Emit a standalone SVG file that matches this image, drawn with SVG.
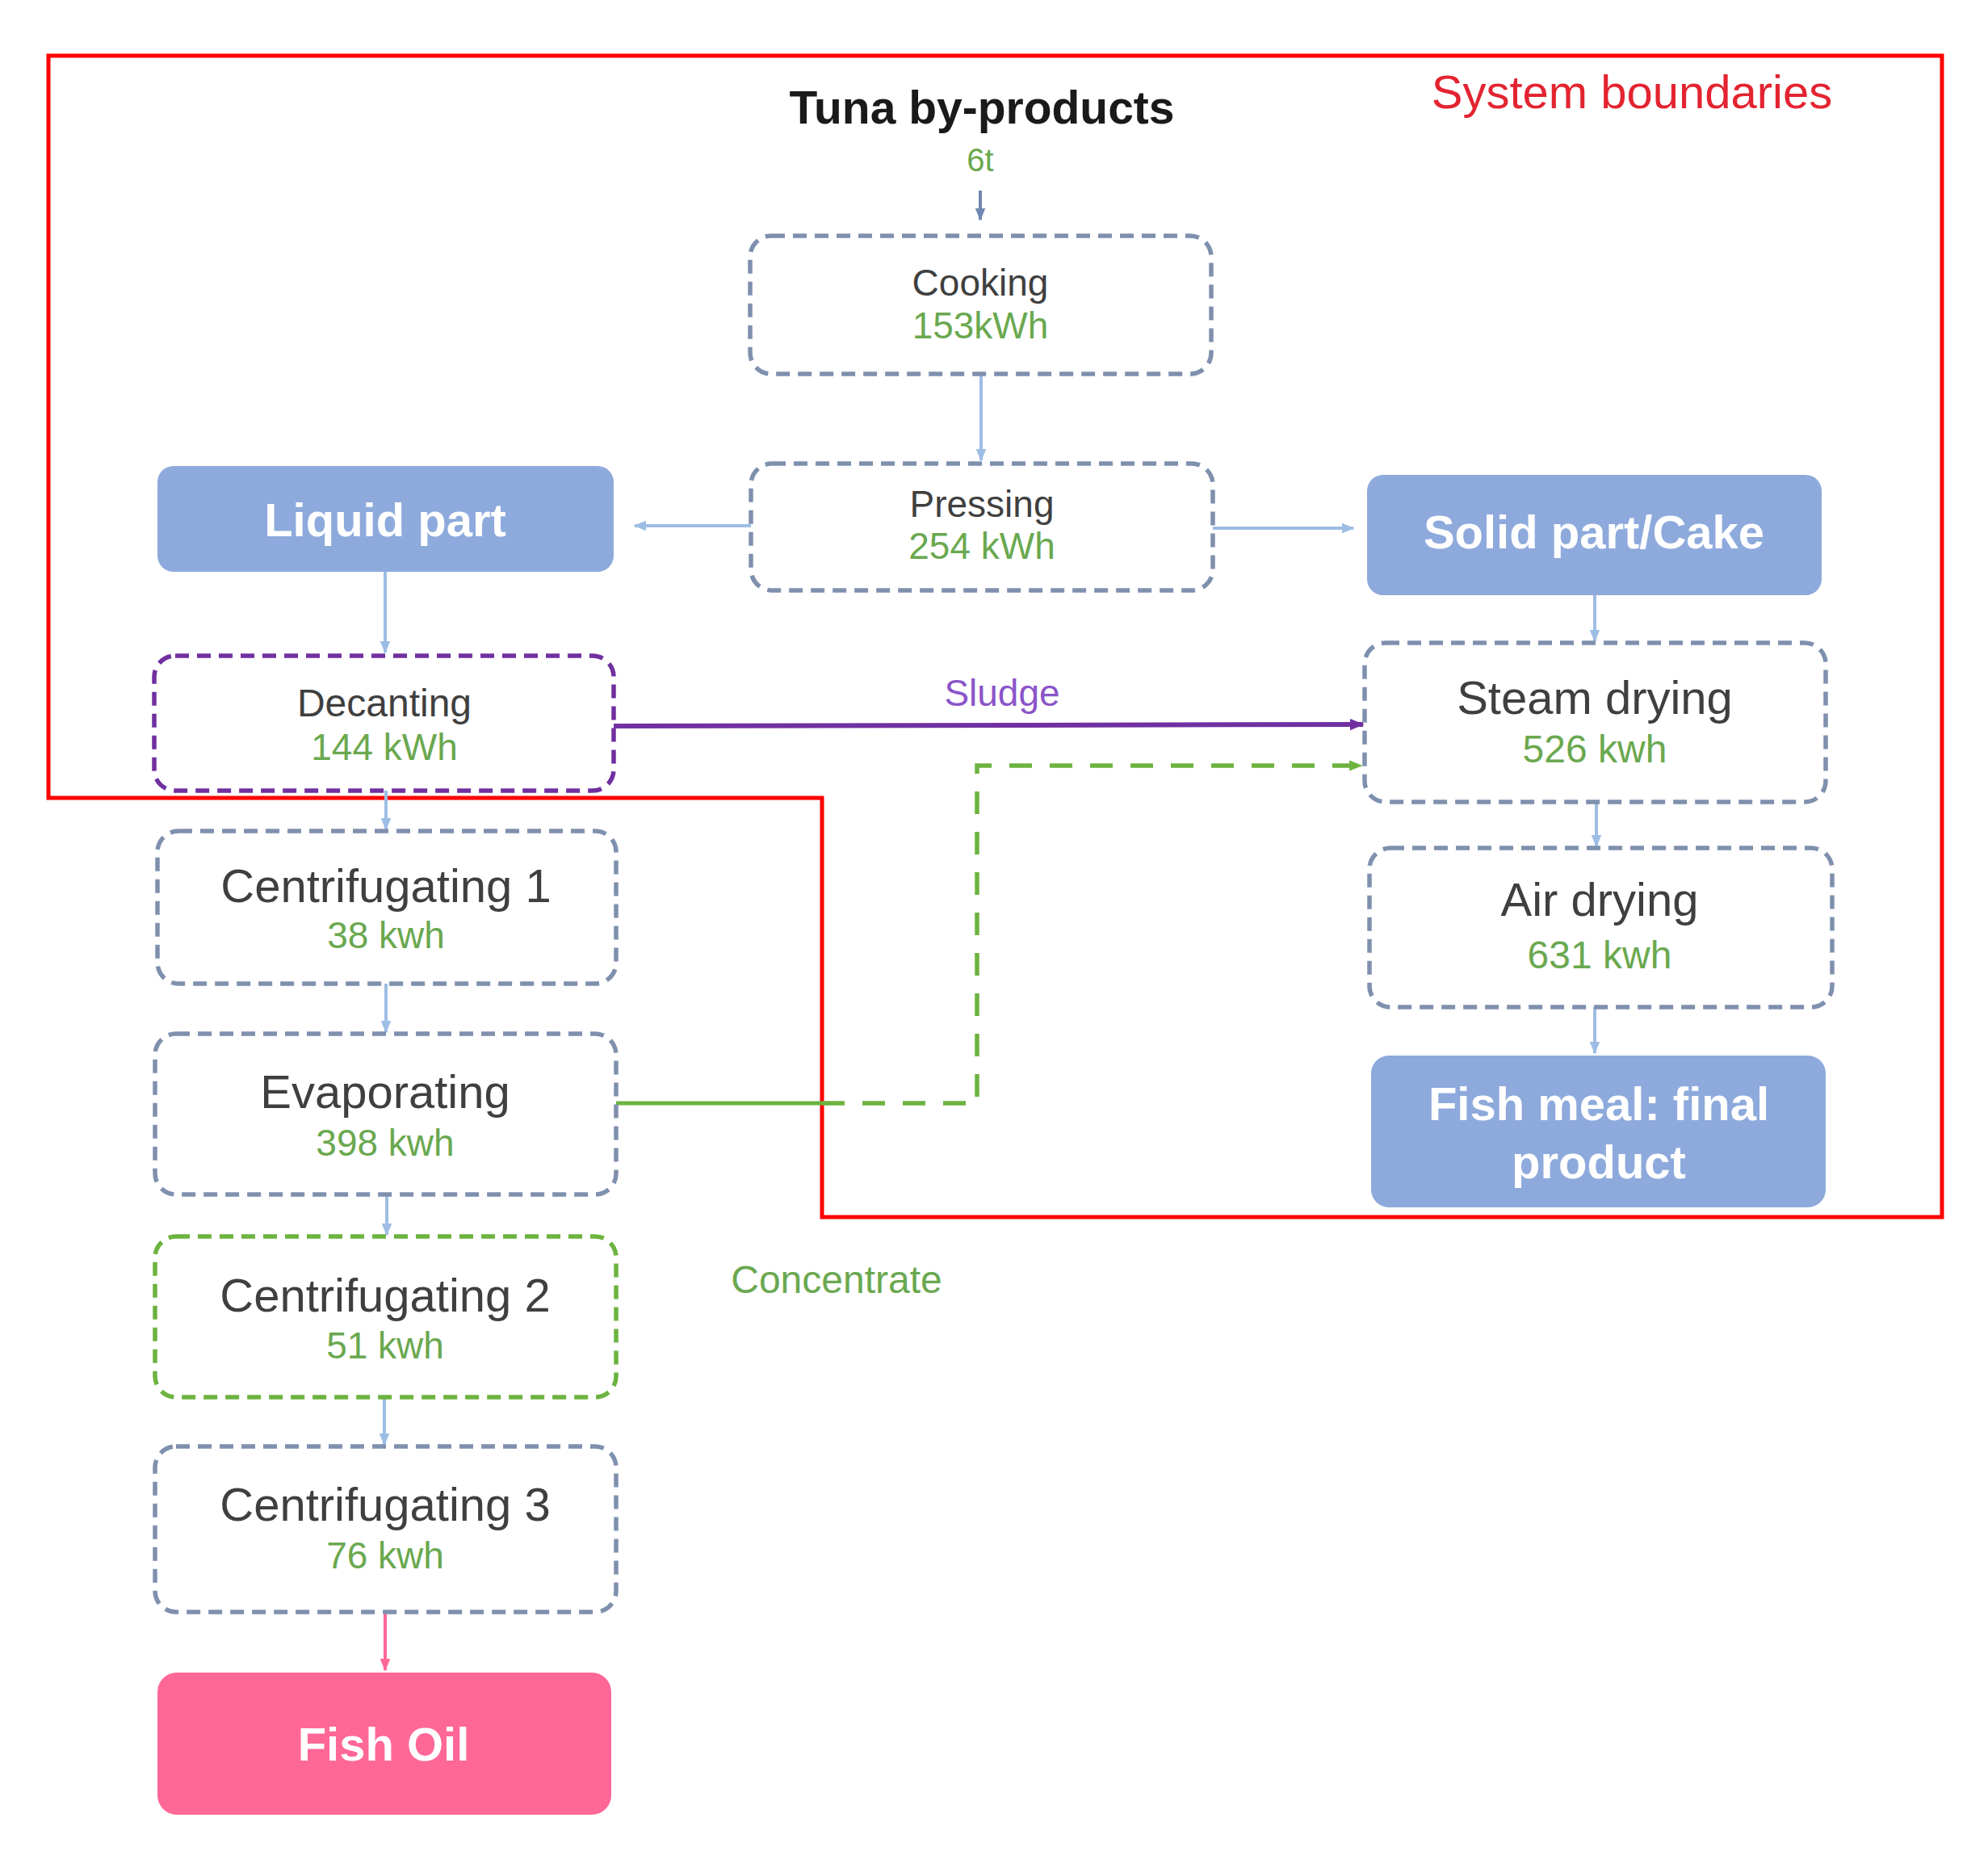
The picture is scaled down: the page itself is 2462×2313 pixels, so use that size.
<svg xmlns="http://www.w3.org/2000/svg" width="2462" height="2313" viewBox="0 0 2462 2313">
<style>
text{font-family:"Liberation Sans",Arial,sans-serif;text-anchor:middle}
.proc{fill:#ffffff;stroke:#7f90ae;stroke-width:5.5;stroke-dasharray:17 10}
.pur{stroke:#7030a0}
.grn{stroke:#6cb33f}
.fill{fill:#8eaadc;stroke:none}
.pink{fill:#ff6796;stroke:none}
.nm{fill:#3f3f3f}
.val{fill:#6aa84f}
.big{font-size:58px}
.sm{font-size:46px}
.wb{fill:#ffffff;font-weight:bold;font-size:58px}
.arr{stroke:#9dbde4;stroke-width:4;fill:none}
</style>
<defs>
<marker id="ab" viewBox="0 0 10 10" refX="9" refY="5" markerWidth="4" markerHeight="4" orient="auto" markerUnits="strokeWidth"><path d="M0,1 L10,5 L0,9 z" fill="#9dbde4"/></marker>
<marker id="ad" viewBox="0 0 10 10" refX="9" refY="5" markerWidth="4" markerHeight="4" orient="auto" markerUnits="strokeWidth"><path d="M0,1 L10,5 L0,9 z" fill="#7088b0"/></marker>
<marker id="ap" viewBox="0 0 10 10" refX="9" refY="5" markerWidth="3" markerHeight="3" orient="auto" markerUnits="strokeWidth"><path d="M0,1 L10,5 L0,9 z" fill="#7030a0"/></marker>
<marker id="ag" viewBox="0 0 10 10" refX="9" refY="5" markerWidth="3" markerHeight="3" orient="auto" markerUnits="strokeWidth"><path d="M0,1 L10,5 L0,9 z" fill="#6cb33f"/></marker>
<marker id="ak" viewBox="0 0 10 10" refX="9" refY="5" markerWidth="4" markerHeight="4" orient="auto" markerUnits="strokeWidth"><path d="M0,1 L10,5 L0,9 z" fill="#ff6796"/></marker>
</defs>
<rect width="2462" height="2313" fill="#ffffff"/>

<g id="boundary">
<path d="M60,69 L2405,69 L2405,1507 L1018,1507 L1018,988 L60,988 Z" fill="none" stroke="#ff0000" stroke-width="5"/>
<text x="2021" y="134" style="font-size:58px;fill:#e32430">System boundaries</text>
</g>

<g id="connectors">
<line x1="1214" y1="236" x2="1214" y2="272" stroke="#7088b0" stroke-width="4" marker-end="url(#ad)"/>
<line class="arr" x1="1215" y1="463" x2="1215" y2="570" marker-end="url(#ab)"/>
<line class="arr" x1="930" y1="651" x2="786" y2="651" marker-end="url(#ab)"/>
<line class="arr" x1="1502" y1="654" x2="1676" y2="654" marker-end="url(#ab)"/>
<line class="arr" x1="1975" y1="737" x2="1975" y2="794" marker-end="url(#ab)"/>
<line class="arr" x1="477" y1="708" x2="477" y2="808" marker-end="url(#ab)"/>
<line class="arr" x1="478" y1="979" x2="478" y2="1027" marker-end="url(#ab)"/>
<line class="arr" x1="478" y1="1218" x2="478" y2="1278" marker-end="url(#ab)"/>
<line class="arr" x1="479" y1="1479" x2="479" y2="1529" marker-end="url(#ab)"/>
<line class="arr" x1="476" y1="1730" x2="476" y2="1789" marker-end="url(#ab)"/>
<line x1="477" y1="1996" x2="477" y2="2068" stroke="#ff6796" stroke-width="4" marker-end="url(#ak)"/>
<line class="arr" x1="1977" y1="993" x2="1977" y2="1048" marker-end="url(#ab)"/>
<line class="arr" x1="1975" y1="1247" x2="1975" y2="1304" marker-end="url(#ab)"/>
<line x1="760" y1="899" x2="1688" y2="897" stroke="#7030a0" stroke-width="6" marker-end="url(#ap)"/>
<text x="1241" y="874" style="font-size:46px;fill:#8a55c8">Sludge</text>
<line x1="761" y1="1366" x2="1018" y2="1366" stroke="#6cb33f" stroke-width="5"/>
<path d="M1018,1366 L1210,1366 L1210,948 L1686,948" fill="none" stroke="#6cb33f" stroke-width="5.5" stroke-dasharray="28 22" marker-end="url(#ag)"/>
<text x="1036" y="1601" style="font-size:48px;fill:#6aa84f">Concentrate</text>
</g>

<g id="tuna">
<text x="1216" y="153" style="font-size:57px;font-weight:bold;fill:#1a1a1a">Tuna by-products</text>
<text x="1214" y="212" style="font-size:40px;fill:#6aa84f">6t</text>
</g>

<g id="cooking">
<rect class="proc" x="929" y="292" width="571" height="171" rx="26"/>
<text class="nm sm" x="1214" y="366">Cooking</text>
<text class="val sm" x="1214" y="419">153kWh</text>
</g>

<g id="pressing">
<rect class="proc" x="930" y="574" width="572" height="157" rx="26"/>
<text class="nm sm" x="1216" y="640">Pressing</text>
<text class="val sm" x="1216" y="692">254 kWh</text>
</g>

<g id="liquid">
<rect class="fill" x="195" y="577" width="565" height="131" rx="20"/>
<text class="wb" x="477" y="664">Liquid part</text>
</g>

<g id="solid">
<rect class="fill" x="1693" y="588" width="563" height="149" rx="20"/>
<text class="wb" x="1974" y="679">Solid part/Cake</text>
</g>

<g id="decanting">
<rect class="proc pur" x="191" y="812" width="569" height="167" rx="26"/>
<text class="nm" x="476" y="887" style="font-size:48px">Decanting</text>
<text class="val sm" x="476" y="941">144 kWh</text>
</g>

<g id="steam">
<rect class="proc" x="1690" y="796" width="571" height="197" rx="26"/>
<text class="nm big" x="1975" y="884">Steam drying</text>
<text class="val" x="1975" y="944" style="font-size:48px">526 kwh</text>
</g>

<g id="air">
<rect class="proc" x="1696" y="1050" width="573" height="197" rx="26"/>
<text class="nm big" x="1981" y="1134">Air drying</text>
<text class="val" x="1981" y="1199" style="font-size:48px">631 kwh</text>
</g>

<g id="fishmeal">
<rect class="fill" x="1698" y="1307" width="563" height="188" rx="22"/>
<text class="wb" x="1980" y="1387">Fish meal: final</text>
<text class="wb" x="1980" y="1459">product</text>
</g>

<g id="cent1">
<rect class="proc" x="195" y="1029" width="568" height="189" rx="26"/>
<text class="nm big" x="478" y="1117">Centrifugating 1</text>
<text class="val sm" x="478" y="1174">38 kwh</text>
</g>

<g id="evap">
<rect class="proc" x="192" y="1280" width="571" height="199" rx="26"/>
<text class="nm big" x="477" y="1372">Evaporating</text>
<text class="val sm" x="477" y="1431">398 kwh</text>
</g>

<g id="cent2">
<rect class="proc grn" x="192" y="1531" width="571" height="199" rx="26"/>
<text class="nm big" x="477" y="1624">Centrifugating 2</text>
<text class="val sm" x="477" y="1682">51 kwh</text>
</g>

<g id="cent3">
<rect class="proc" x="192" y="1791" width="571" height="205" rx="26"/>
<text class="nm big" x="477" y="1883">Centrifugating 3</text>
<text class="val sm" x="477" y="1942">76 kwh</text>
</g>

<g id="fishoil">
<rect class="pink" x="195" y="2071" width="562" height="176" rx="24"/>
<text class="wb" x="475" y="2180">Fish Oil</text>
</g>
</svg>
